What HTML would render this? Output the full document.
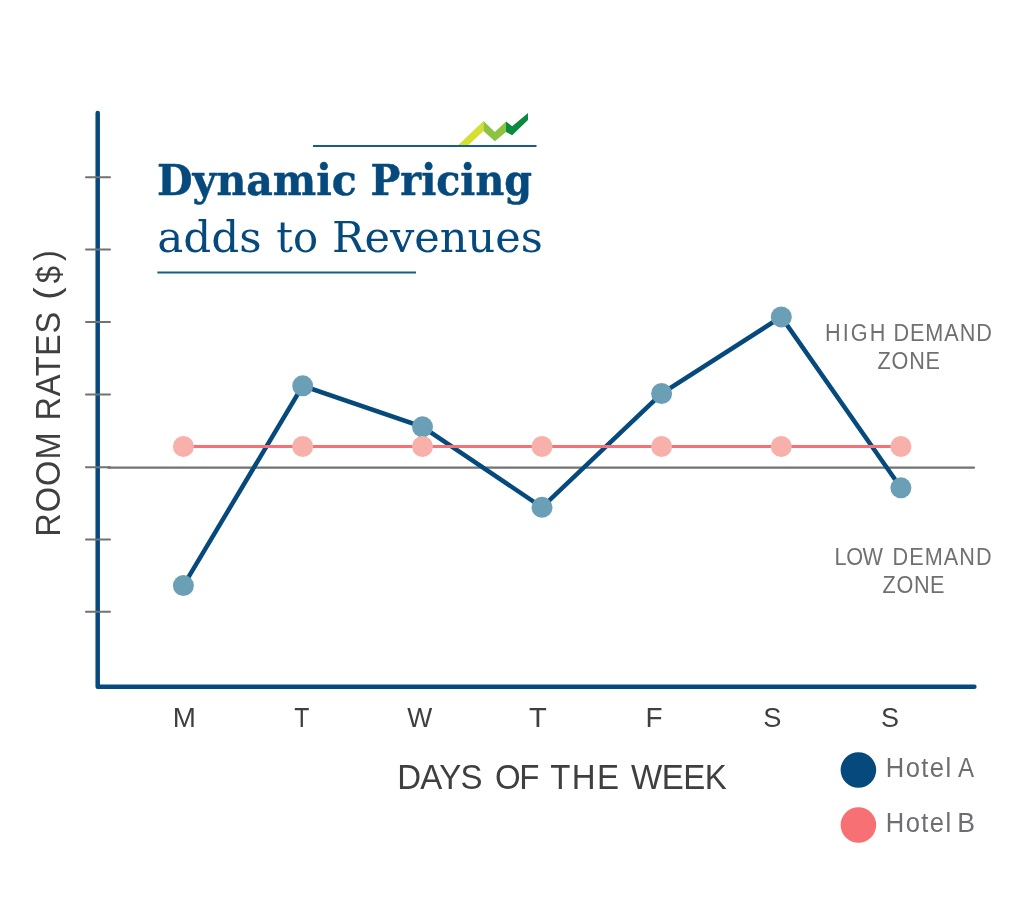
<!DOCTYPE html>
<html>
<head>
<meta charset="utf-8">
<title>Dynamic Pricing adds to Revenues</title>
<style>
html,body{margin:0;padding:0;background:#fff;}
body{width:1024px;height:910px;overflow:hidden;}
svg{display:block;}
</style>
</head>
<body>
<svg width="1024" height="910" viewBox="0 0 1024 910">
  <rect width="1024" height="910" fill="#fff"/>
  <!-- title decoration -->
  <line x1="313" y1="146" x2="536.5" y2="146" stroke="#1a5a8c" stroke-width="2"/>
  <polygon points="458.3,145 468.5,145 483.5,131 483.5,121" fill="#d6df2f"/>
  <polygon points="483.5,121 483.5,131 494.8,141.3 506,132 506,121.5 494.8,132" fill="#8cc340"/>
  <polygon points="506,121.5 506,132 512.2,135.2 528,119.9 528,112.9 512.2,126.3" fill="#0a8a3e"/>
  <line x1="157.4" y1="272.4" x2="416" y2="272.4" stroke="#1a5a8c" stroke-width="2"/>
  <!-- axes -->
  <path d="M97.7,113 L97.7,686.75 L974.4,686.75" fill="none" stroke="#064a7d" stroke-width="4.5" stroke-linecap="round" stroke-linejoin="round"/>
  <!-- ticks -->
  <g stroke="#727272" stroke-width="2" stroke-linecap="round">
    <line x1="86" y1="177.2" x2="110" y2="177.2"/>
    <line x1="86" y1="249.5" x2="110" y2="249.5"/>
    <line x1="86" y1="322" x2="110" y2="322"/>
    <line x1="86" y1="394.6" x2="110" y2="394.6"/>
    <line x1="86" y1="467.3" x2="110" y2="467.3"/>
    <line x1="86" y1="539.5" x2="110" y2="539.5"/>
    <line x1="86" y1="611.8" x2="110" y2="611.8"/>
    <line x1="108" y1="467.6" x2="974" y2="467.6" stroke-width="2.2"/>
  </g>
  <!-- Hotel A -->
  <polyline points="183.4,585.6 302.7,385.8 422.5,426.8 542,507.3 661.6,393.5 781.3,316.9 900.9,487.8" fill="none" stroke="#064a7d" stroke-width="4.5" stroke-linejoin="miter"/>
  <g fill="#6a9fb6">
    <circle cx="183.4" cy="585.6" r="10.5"/>
    <circle cx="302.7" cy="385.8" r="10.5"/>
    <circle cx="422.5" cy="426.8" r="10.5"/>
    <circle cx="542" cy="507.3" r="10.5"/>
    <circle cx="661.6" cy="393.5" r="10.5"/>
    <circle cx="781.3" cy="316.9" r="10.5"/>
    <circle cx="900.9" cy="487.8" r="10.5"/>
  </g>
  <!-- Hotel B -->
  <line x1="183.4" y1="446.5" x2="900.9" y2="446.5" stroke="#f77073" stroke-width="3"/>
  <g fill="#f8b1aa">
    <circle cx="183.4" cy="446.5" r="10.5"/>
    <circle cx="302.7" cy="446.5" r="10.5"/>
    <circle cx="422.5" cy="446.5" r="10.5"/>
    <circle cx="542" cy="446.5" r="10.5"/>
    <circle cx="661.6" cy="446.5" r="10.5"/>
    <circle cx="781.3" cy="446.5" r="10.5"/>
    <circle cx="900.9" cy="446.5" r="10.5"/>
  </g>
  <!-- legend -->
  <circle cx="858.4" cy="770" r="17.8" fill="#064a7d"/>
  <circle cx="858.4" cy="825" r="17.8" fill="#f77073"/>

  <text x="157.00" y="195.2" font-family='"DejaVu Serif","Liberation Serif",serif' font-size="43.5" font-weight="bold" fill="#064a7d" stroke="#064a7d" stroke-width="0.5" stroke-linejoin="round" textLength="199.85" lengthAdjust="spacingAndGlyphs">Dynamic</text>
  <text x="370.40" y="195.2" font-family='"DejaVu Serif","Liberation Serif",serif' font-size="43.5" font-weight="bold" fill="#064a7d" stroke="#064a7d" stroke-width="0.5" stroke-linejoin="round" textLength="161.65" lengthAdjust="spacingAndGlyphs">Pricing</text>
  <text x="157.20" y="251.7" font-family='"DejaVu Serif","Liberation Serif",serif' font-size="43.5" font-weight="normal" fill="#064a7d" textLength="104.37" lengthAdjust="spacingAndGlyphs">adds</text>
  <text x="276.20" y="251.7" font-family='"DejaVu Serif","Liberation Serif",serif' font-size="43.5" font-weight="normal" fill="#064a7d" textLength="41.88" lengthAdjust="spacingAndGlyphs">to</text>
  <text x="332.00" y="251.7" font-family='"DejaVu Serif","Liberation Serif",serif' font-size="43.5" font-weight="normal" fill="#064a7d" textLength="210.90" lengthAdjust="spacingAndGlyphs">Revenues</text>
  <text transform="translate(825.00,340.5) scale(0.93,1)" x="0" y="0" font-family='"Liberation Sans","DejaVu Sans",sans-serif' font-size="23.3" font-weight="normal" fill="#707070" letter-spacing="2.26">HIGH</text>
  <text transform="translate(893.40,340.5) scale(0.93,1)" x="0" y="0" font-family='"Liberation Sans","DejaVu Sans",sans-serif' font-size="23.3" font-weight="normal" fill="#707070" letter-spacing="1.01">DEMAND</text>
  <text transform="translate(877.40,368.7) scale(0.93,1)" x="0" y="0" font-family='"Liberation Sans","DejaVu Sans",sans-serif' font-size="23.3" font-weight="normal" fill="#707070" letter-spacing="0.90">ZONE</text>
  <text transform="translate(834.60,564.5) scale(0.93,1)" x="0" y="0" font-family='"Liberation Sans","DejaVu Sans",sans-serif' font-size="23.3" font-weight="normal" fill="#707070" letter-spacing="-0.48">LOW</text>
  <text transform="translate(892.60,564.5) scale(0.93,1)" x="0" y="0" font-family='"Liberation Sans","DejaVu Sans",sans-serif' font-size="23.3" font-weight="normal" fill="#707070" letter-spacing="1.10">DEMAND</text>
  <text transform="translate(882.60,592.8) scale(0.93,1)" x="0" y="0" font-family='"Liberation Sans","DejaVu Sans",sans-serif' font-size="23.3" font-weight="normal" fill="#707070" letter-spacing="0.65">ZONE</text>
  <text x="172.80" y="727.0" font-family='"Liberation Sans","DejaVu Sans",sans-serif' font-size="28" font-weight="normal" fill="#3f3f3f" textLength="23.14" lengthAdjust="spacingAndGlyphs">M</text>
  <text x="294.20" y="727.0" font-family='"Liberation Sans","DejaVu Sans",sans-serif' font-size="28" font-weight="normal" fill="#3f3f3f" textLength="15.07" lengthAdjust="spacingAndGlyphs">T</text>
  <text x="407.20" y="727.0" font-family='"Liberation Sans","DejaVu Sans",sans-serif' font-size="28" font-weight="normal" fill="#3f3f3f" textLength="24.99" lengthAdjust="spacingAndGlyphs">W</text>
  <text x="529.00" y="727.0" font-family='"Liberation Sans","DejaVu Sans",sans-serif' font-size="28" font-weight="normal" fill="#3f3f3f" textLength="17.81" lengthAdjust="spacingAndGlyphs">T</text>
  <text x="645.60" y="727.0" font-family='"Liberation Sans","DejaVu Sans",sans-serif' font-size="28" font-weight="normal" fill="#3f3f3f" textLength="17.03" lengthAdjust="spacingAndGlyphs">F</text>
  <text x="763.20" y="727.0" font-family='"Liberation Sans","DejaVu Sans",sans-serif' font-size="28" font-weight="normal" fill="#3f3f3f" textLength="18.17" lengthAdjust="spacingAndGlyphs">S</text>
  <text x="881.00" y="727.0" font-family='"Liberation Sans","DejaVu Sans",sans-serif' font-size="28" font-weight="normal" fill="#3f3f3f" textLength="17.99" lengthAdjust="spacingAndGlyphs">S</text>
  <text transform="translate(397.20,789.4) scale(0.93,1)" x="0" y="0" font-family='"Liberation Sans","DejaVu Sans",sans-serif' font-size="35.5" font-weight="normal" fill="#3f3f3f" letter-spacing="-0.72">DAYS</text>
  <text transform="translate(495.00,789.4) scale(0.93,1)" x="0" y="0" font-family='"Liberation Sans","DejaVu Sans",sans-serif' font-size="35.5" font-weight="normal" fill="#3f3f3f" letter-spacing="-1.40">OF</text>
  <text transform="translate(550.20,789.4) scale(0.93,1)" x="0" y="0" font-family='"Liberation Sans","DejaVu Sans",sans-serif' font-size="35.5" font-weight="normal" fill="#3f3f3f" letter-spacing="1.45">THE</text>
  <text transform="translate(631.00,789.4) scale(0.93,1)" x="0" y="0" font-family='"Liberation Sans","DejaVu Sans",sans-serif' font-size="35.5" font-weight="normal" fill="#3f3f3f" letter-spacing="-0.50">WEEK</text>
  <text transform="translate(885.80,777.2) scale(0.93,1)" x="0" y="0" font-family='"Liberation Sans","DejaVu Sans",sans-serif' font-size="27.5" font-weight="normal" fill="#6d6e71" letter-spacing="1.51">Hotel</text>
  <text x="958.00" y="777.2" font-family='"Liberation Sans","DejaVu Sans",sans-serif' font-size="27.5" font-weight="normal" fill="#6d6e71" textLength="16.10" lengthAdjust="spacingAndGlyphs">A</text>
  <text transform="translate(885.80,832.3) scale(0.93,1)" x="0" y="0" font-family='"Liberation Sans","DejaVu Sans",sans-serif' font-size="27.5" font-weight="normal" fill="#6d6e71" letter-spacing="1.51">Hotel</text>
  <text x="957.20" y="832.3" font-family='"Liberation Sans","DejaVu Sans",sans-serif' font-size="27.5" font-weight="normal" fill="#6d6e71" textLength="17.77" lengthAdjust="spacingAndGlyphs">B</text>
  <text transform="translate(60.4,536.80) rotate(-90) scale(0.93,1)" x="0" y="0" font-family='"Liberation Sans","DejaVu Sans",sans-serif' font-size="35.0" font-weight="normal" fill="#3f3f3f" letter-spacing="1.11">ROOM</text>
  <text transform="translate(60.4,420.40) rotate(-90) scale(0.93,1)" x="0" y="0" font-family='"Liberation Sans","DejaVu Sans",sans-serif' font-size="35.0" font-weight="normal" fill="#3f3f3f" letter-spacing="0.67">RATES</text>
  <text transform="translate(59.0,299.80) rotate(-90)" x="0" y="0" font-family='"Liberation Sans","DejaVu Sans",sans-serif' font-size="35.0" font-weight="normal" fill="#3f3f3f" textLength="12.35" lengthAdjust="spacingAndGlyphs">(</text>
  <text transform="translate(60.4,283.20) rotate(-90)" x="0" y="0" font-family='"Liberation Sans","DejaVu Sans",sans-serif' font-size="33.0" font-weight="normal" fill="#3f3f3f" textLength="17.30" lengthAdjust="spacingAndGlyphs">$</text>
  <text transform="translate(59.0,261.00) rotate(-90)" x="0" y="0" font-family='"Liberation Sans","DejaVu Sans",sans-serif' font-size="35.0" font-weight="normal" fill="#3f3f3f" textLength="10.74" lengthAdjust="spacingAndGlyphs">)</text>
</svg>
</body>
</html>
